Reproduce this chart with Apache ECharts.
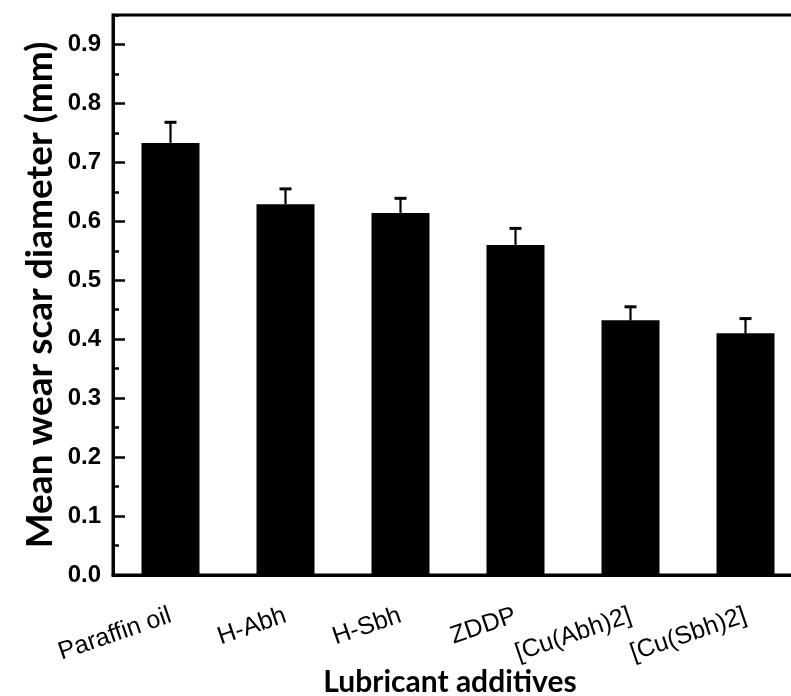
<!DOCTYPE html>
<html>
<head>
<meta charset="utf-8">
<script src="https://cdn.jsdelivr.net/npm/echarts@6/dist/echarts.min.js"></script>
<style>
  html, body { margin: 0; padding: 0; background: #fff; }
  #chart { width: 791px; height: 696px; }
</style>
</head>
<body>
<div id="chart"></div>
<script>
// 数据
var categories = ['Paraffin oil', 'H-Abh', 'H-Sbh', 'ZDDP', '[Cu(Abh)2]', '[Cu(Sbh)2]'];
var meanWsd = [0.733, 0.629, 0.614, 0.560, 0.432, 0.410];
var errUpper = [0.768, 0.655, 0.639, 0.588, 0.455, 0.435];

var chart = echarts.init(document.getElementById('chart'), null, {renderer: 'canvas'});

// 误差棒 (只画上半部分)
function renderErr (params, api) {
	var x = api.value(0);
	var base = api.coord([x, api.value(1)]);
	var top = api.coord([x, api.value(2)]);
	var cap = 6;
	return {
		type: 'group',
		children: [
			{type: 'line', shape: {x1: base[0], y1: base[1], x2: top[0], y2: top[1]}, style: {stroke: '#000', lineWidth: 2.2}},
			{type: 'line', shape: {x1: top[0] - cap, y1: top[1], x2: top[0] + cap, y2: top[1]}, style: {stroke: '#000', lineWidth: 3}}
		]
	};
}

var option = {
	animation: false,
	grid: {
		left: 113,
		top: 15,
		width: 690,
		height: 560,
		outerBoundsMode: 'none',
		containLabel: false,
		show: true,
		borderColor: '#000',
		borderWidth: 3,
		backgroundColor: 'transparent'
	},
	xAxis: [
		{
			type: 'category',
			data: categories,
			position: 'bottom',
			name: 'Lubricant additives',
			nameLocation: 'middle',
			nameMoveOverlap: false,
			nameGap: 92,
			nameTextStyle: {fontFamily: 'Lato', fontWeight: 'bold', fontSize: 30, color: '#000', padding: [0, 16, 0, 0]},
			axisLine: {lineStyle: {color: '#000', width: 3}},
			axisTick: {alignWithLabel: true, length: 12, lineStyle: {color: '#000', width: 2.5}},
			axisLabel: {
				rotate: 19,
				margin: 40,
				fontFamily: 'Liberation Sans',
				fontSize: 25,
				color: '#000',
				interval: 0
			}
		},
		{
			type: 'category',
			data: categories,
			position: 'bottom',
			axisLine: {show: false},
			axisTick: {inside: true, length: 6, lineStyle: {color: '#000', width: 2.5}},
			axisLabel: {show: false}
		}
	],
	yAxis: [
		{
			type: 'value',
			position: 'left',
			min: 0,
			max: 0.95,
			interval: 0.1,
			name: 'Mean wear scar diameter (mm)',
			nameLocation: 'middle',
			nameMoveOverlap: false,
			nameGap: 54,
			nameTextStyle: {fontFamily: 'Lato', fontWeight: 'bold', fontSize: 37, color: '#000'},
			splitLine: {show: false},
			axisLine: {show: true, lineStyle: {color: '#000', width: 3}},
			axisTick: {show: true, inside: true, length: 12, lineStyle: {color: '#000', width: 2.5}},
			axisLabel: {
				showMaxLabel: false,
				margin: 12,
				fontFamily: 'Liberation Sans',
				fontWeight: 'bold',
				fontSize: 24,
				color: '#000',
				formatter: function (v) { return v.toFixed(1); }
			}
		},
		{
			type: 'value',
			position: 'left',
			min: 0,
			max: 0.95,
			interval: 0.05,
			splitLine: {show: false},
			axisLine: {show: false},
			axisTick: {show: true, inside: true, length: 6, lineStyle: {color: '#000', width: 2.5}},
			axisLabel: {show: false}
		}
	],
	series: [
		{
			type: 'bar',
			data: meanWsd,
			barWidth: 58,
			itemStyle: {color: '#000'},
			z: 2
		},
		{
			type: 'custom',
			renderItem: renderErr,
			data: categories.map(function (c, i) { return [i, meanWsd[i], errUpper[i]]; }),
			encode: {x: 0, y: [1, 2]},
			z: 3
		}
	]
};

chart.setOption(option, true);
</script>
</body>
</html>
